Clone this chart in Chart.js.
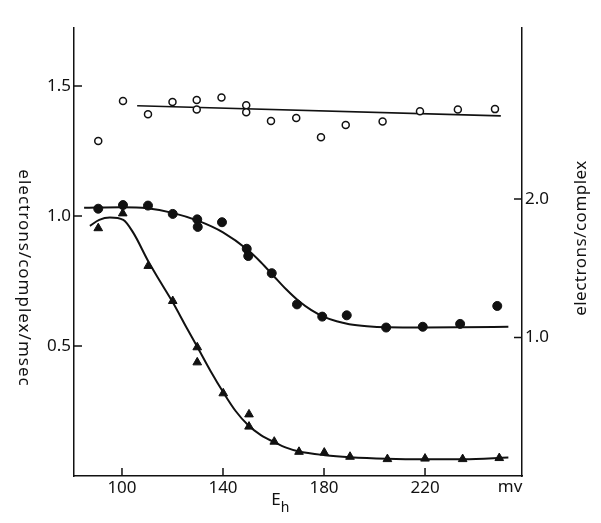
<!DOCTYPE html>
<html>
<head>
<meta charset="utf-8">
<script src="https://cdn.jsdelivr.net/npm/chart.js@4.4.1/dist/chart.umd.min.js"></script>
<style>
 body { margin: 0; background: #fff; }
 canvas { display: block; }
</style>
</head>
<body>
<canvas id="ehChart" width="601" height="523"></canvas>
<script>
// open circles (electrons/complex/msec)
var openX = [90.6, 100.4, 110.3, 120, 129.6, 129.6, 139.4, 149.2, 149.2, 159, 169, 178.8, 188.6, 203.2, 218, 233, 247.7];
var openY = [1.288, 1.442, 1.391, 1.438, 1.446, 1.410, 1.456, 1.426, 1.399, 1.365, 1.377, 1.303, 1.350, 1.363, 1.403, 1.410, 1.411];
var openFitX = [106, 250];
var openFitY = [1.424, 1.385];

// filled circles
var dotX = [90.6, 100.4, 110.3, 120.1, 129.8, 130, 139.6, 149.4, 150, 159.3, 169.3, 179.3, 189, 204.6, 219.1, 233.9, 248.6];
var dotY = [1.028, 1.042, 1.040, 1.008, 0.987, 0.958, 0.976, 0.874, 0.846, 0.780, 0.660, 0.613, 0.618, 0.571, 0.574, 0.585, 0.654];
var dotFitX = [85, 100, 110, 120, 130, 140, 150, 155, 160, 165, 170, 175, 180, 185, 190, 197, 205, 220, 235, 253];
var dotFitY = [1.032, 1.034, 1.030, 1.012, 0.982, 0.937, 0.868, 0.822, 0.770, 0.718, 0.673, 0.638, 0.612, 0.595, 0.584, 0.576, 0.572, 0.571, 0.572, 0.574];

// triangles
var triX = [90.6, 100.3, 110.4, 120.1, 129.8, 129.8, 140.1, 150.3, 150.3, 160.3, 170.1, 180.1, 190.3, 205.1, 220, 234.9, 249.4];
var triY = [0.953, 1.010, 0.808, 0.673, 0.495, 0.437, 0.318, 0.237, 0.190, 0.132, 0.093, 0.090, 0.074, 0.065, 0.067, 0.065, 0.069];
var triFitX = [87.3, 91, 95.2, 100.5, 104.5, 110.4, 115, 120.1, 125.6, 129.8, 135, 140.1, 145, 150, 155, 160.3, 165, 169.8, 180.4, 190.3, 204.8, 220, 235.2, 253];
var triFitY = [0.962, 0.985, 0.994, 0.985, 0.935, 0.826, 0.750, 0.668, 0.570, 0.497, 0.405, 0.322, 0.250, 0.195, 0.157, 0.130, 0.109, 0.095, 0.080, 0.072, 0.066, 0.064, 0.064, 0.071];

// axes
var xTicks = [100, 140, 180, 220];
var leftTicks = [0.5, 1.0, 1.5];
var rightTicks = [1.0, 2.0];

var ink = "#111";
var tickFont = { family: "Noto Sans", size: 17 };

function pts(xs, ys) {
 return xs.map(function (x, i) {
  return { x: x, y: ys[i] };
 });
}

// small ticks pointing into the plot, plus the loose texts
var decorPlugin = {
 id: "decor",
 afterDraw: function (chart) {
  var ctx = chart.ctx;
  var area = chart.chartArea;
  var sx = chart.scales.x, sy = chart.scales.y, sy2 = chart.scales.y2;
  ctx.save();
  ctx.strokeStyle = ink;
  ctx.lineWidth = 1.5;
  ctx.beginPath();
  xTicks.forEach(function (v) {
   var p = sx.getPixelForValue(v);
   ctx.moveTo(p, area.bottom);
   ctx.lineTo(p, area.bottom - 8);
  });
  leftTicks.forEach(function (v) {
   var p = sy.getPixelForValue(v);
   ctx.moveTo(area.left, p);
   ctx.lineTo(area.left + 8, p);
  });
  rightTicks.forEach(function (v) {
   var p = sy2.getPixelForValue(v);
   ctx.moveTo(area.right, p);
   ctx.lineTo(area.right - 8, p);
  });
  ctx.stroke();

  ctx.fillStyle = ink;
  ctx.font = "17px 'Noto Sans'";
  ctx.textAlign = "center";
  ctx.textBaseline = "middle";
  ctx.fillText("mv", 510, 487);
  ctx.fillText("E", 276, 500);
  ctx.font = "14px 'Noto Sans'";
  ctx.fillText("h", 285, 508);

  ctx.font = "17px 'Noto Sans'";
  ctx.letterSpacing = "1px";
  ctx.save();
  ctx.translate(24, 278);
  ctx.rotate(Math.PI / 2);
  ctx.fillText("electrons/complex/msec", 0, 0);
  ctx.restore();

  ctx.letterSpacing = "0.5px";
  ctx.save();
  ctx.translate(581, 238);
  ctx.rotate(-Math.PI / 2);
  ctx.fillText("electrons/complex", 0, 0);
  ctx.restore();
  ctx.restore();
 },
};

new Chart(document.getElementById("ehChart"), {
 type: "scatter",
 data: {
  datasets: [
   {
    data: pts(openX, openY),
    pointStyle: "circle",
    pointRadius: 3.5,
    pointBackgroundColor: "#fff",
    pointBorderColor: ink,
    pointBorderWidth: 1.5,
   },
   {
    data: pts(dotX, dotY),
    pointStyle: "circle",
    pointRadius: 4.5,
    pointBackgroundColor: ink,
    pointBorderColor: ink,
    pointBorderWidth: 1,
   },
   {
    data: pts(triX, triY),
    pointStyle: "triangle",
    pointRadius: 5,
    pointBackgroundColor: ink,
    pointBorderColor: ink,
    pointBorderWidth: 1,
   },
   {
    data: pts(openFitX, openFitY),
    showLine: true,
    pointRadius: 0,
    borderColor: ink,
    borderWidth: 1.6,
   },
   {
    data: pts(dotFitX, dotFitY),
    showLine: true,
    pointRadius: 0,
    borderColor: ink,
    borderWidth: 2,
    cubicInterpolationMode: "monotone",
   },
   {
    data: pts(triFitX, triFitY),
    showLine: true,
    pointRadius: 0,
    borderColor: ink,
    borderWidth: 2,
    cubicInterpolationMode: "monotone",
   },
  ],
 },
 options: {
  responsive: false,
  animation: false,
  devicePixelRatio: 1,
  layout: { padding: { top: 28, left: 0, right: 0, bottom: 0 } },
  plugins: { legend: { display: false }, tooltip: { enabled: false } },
  scales: {
   x: {
    type: "linear",
    min: 81,
    max: 258.4,
    afterBuildTicks: function (scale) {
     scale.ticks = xTicks.map(function (v) { return { value: v }; });
    },
    afterFit: function (scale) { scale.height = 47; },
    grid: { display: false, drawTicks: false },
    border: { display: true, color: ink, width: 1.5 },
    ticks: { color: ink, font: tickFont, padding: 2, maxRotation: 0,
     callback: function (v) { return String(v); } },
   },
   y: {
    position: "left",
    min: 0,
    max: 1.723,
    afterBuildTicks: function (scale) {
     scale.ticks = leftTicks.map(function (v) { return { value: v }; });
    },
    afterFit: function (scale) { scale.width = 74; },
    grid: { display: false, drawTicks: false },
    border: { display: true, color: ink, width: 1.5 },
    ticks: { color: ink, font: tickFont, padding: 3,
     callback: function (v) { return v.toFixed(1); } },
   },
   y2: {
    position: "right",
    min: 0,
    max: 3.235,
    afterBuildTicks: function (scale) {
     scale.ticks = rightTicks.map(function (v) { return { value: v }; });
    },
    afterFit: function (scale) { scale.width = 79; },
    grid: { display: false, drawTicks: false },
    border: { display: true, color: ink, width: 1.5 },
    ticks: { color: ink, font: tickFont, padding: 3,
     callback: function (v) { return v.toFixed(1); } },
   },
  },
 },
 plugins: [decorPlugin],
});
</script>
</body>
</html>
